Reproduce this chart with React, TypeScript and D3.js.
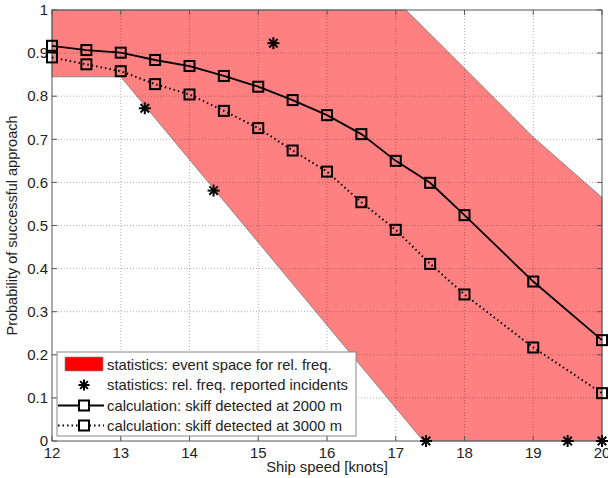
import React from "react";
import * as d3 from "d3";

const xTicks = [12, 13, 14, 15, 16, 17, 18, 19, 20];
const yTicks = [0, 0.1, 0.2, 0.3, 0.4, 0.5, 0.6, 0.7, 0.8, 0.9, 1];
const yTickLabels = ["0", "0.1", "0.2", "0.3", "0.4", "0.5", "0.6", "0.7", "0.8", "0.9", "1"];

const regionX = [12, 17.15, 18, 19, 20, 20, 17.4, 13, 12];
const regionY = [1, 1, 0.865, 0.705, 0.565, 0, 0, 0.845, 0.845];

const incidentX = [15.22, 13.35, 14.35, 17.44, 19.5, 20];
const incidentY = [0.923, 0.772, 0.581, 0, 0, 0];

const speeds = [12, 12.5, 13, 13.5, 14, 14.5, 15, 15.5, 16, 16.5, 17, 17.5, 18, 19, 20];
const p2000 = [0.917, 0.907, 0.901, 0.884, 0.870, 0.847, 0.822, 0.791, 0.756, 0.712, 0.650, 0.599, 0.524, 0.370, 0.234];
const p3000 = [0.890, 0.874, 0.858, 0.828, 0.804, 0.766, 0.726, 0.674, 0.625, 0.554, 0.490, 0.411, 0.340, 0.217, 0.111];

const legendLabels = [
  "statistics: event space for rel. freq.",
  "statistics: rel. freq. reported incidents",
  "calculation: skiff detected at 2000 m",
  "calculation: skiff detected at 3000 m",
];

const W = 608, H = 478;
const L = 52, R = 602, T = 10, B = 441;
const FONT = "Liberation Sans, Arial, sans-serif";

function Star({ x, y, r }: { x: number; y: number; r: number }) {
  const angles = [0, 45, 90, 135];
  return (
    <g>
      {angles.map((a) => {
        const rad = (a * Math.PI) / 180;
        return (
          <line key={a} x1={x - r * Math.cos(rad)} y1={y - r * Math.sin(rad)} x2={x + r * Math.cos(rad)} y2={y + r * Math.sin(rad)} stroke="#000" strokeWidth={2} />
        );
      })}
    </g>
  );
}

export default function App() {
  const x = d3.scaleLinear().domain([12, 20]).range([L, R]);
  const y = d3.scaleLinear().domain([0, 1]).range([B, T]);

  const region = regionX.map((v, i) => [x(v), y(regionY[i])] as [number, number]);
  const regionPath = d3.line()(region) + "Z";

  const line = d3.line<number>().x((_, i) => x(speeds[i])).y((d) => y(d));
  const path2000 = line(p2000) || "";
  const path3000 = line(p3000) || "";

  const sq = 10;
  const gridColor = "rgba(0,0,0,0.3)";
  const axisColor = "#555";
  const tickLen = 5;

  const lgX = 57, lgY = 352, lgW = 299, lgH = 84;
  const rowY = [365, 385, 405.5, 425.5];

  return (
    <svg width={W} height={H} style={{ position: "absolute", left: 0, top: 0, background: "#fff" }}>
      <rect x={0} y={0} width={W} height={H} fill="#fff" />
      <path d={regionPath} fill="#ff8080" stroke="#777" strokeWidth={0.8} />
      {/* grid */}
      {xTicks.slice(1, -1).map((t) => (
        <line key={"gx" + t} x1={x(t)} x2={x(t)} y1={T} y2={B} stroke={gridColor} strokeDasharray="1,2" />
      ))}
      {yTicks.slice(1, -1).map((t) => (
        <line key={"gy" + t} x1={L} x2={R} y1={y(t)} y2={y(t)} stroke={gridColor} strokeDasharray="1,2" />
      ))}
      {/* axes box */}
      <rect x={L} y={T} width={R - L} height={B - T} fill="none" stroke={axisColor} strokeWidth={1} />
      {xTicks.map((t) => (
        <g key={"tx" + t}>
          <line x1={x(t)} x2={x(t)} y1={B} y2={B - tickLen} stroke={axisColor} />
          <line x1={x(t)} x2={x(t)} y1={T} y2={T + tickLen} stroke={axisColor} />
          <text x={x(t)} y={B + 17} textAnchor="middle" fontFamily={FONT} fontSize={15} fill="#222">{t}</text>
        </g>
      ))}
      {yTicks.map((t, i) => (
        <g key={"ty" + t}>
          <line x1={L} x2={L + tickLen} y1={y(t)} y2={y(t)} stroke={axisColor} />
          <line x1={R} x2={R - tickLen} y1={y(t)} y2={y(t)} stroke={axisColor} />
          <text x={L - 4} y={y(t)} dy="0.35em" textAnchor="end" fontFamily={FONT} fontSize={15} fill="#222">{yTickLabels[i]}</text>
        </g>
      ))}
      {/* series */}
      <path d={path3000} fill="none" stroke="#000" strokeWidth={2} strokeDasharray="1.5,3" />
      <path d={path2000} fill="none" stroke="#000" strokeWidth={1.8} />
      {speeds.map((s, i) => (
        <rect key={"m3" + s} x={x(s) - sq / 2} y={y(p3000[i]) - sq / 2} width={sq} height={sq} fill="none" stroke="#000" strokeWidth={2} />
      ))}
      {speeds.map((s, i) => (
        <rect key={"m2" + s} x={x(s) - sq / 2} y={y(p2000[i]) - sq / 2} width={sq} height={sq} fill="none" stroke="#000" strokeWidth={2} />
      ))}
      {incidentX.map((v, i) => (
        <Star key={"st" + i} x={x(v)} y={y(incidentY[i])} r={6} />
      ))}
      {/* legend */}
      <rect x={lgX} y={lgY} width={lgW} height={lgH} fill="#fff" stroke="#888" strokeWidth={1} />
      <rect x={65} y={357} width={38} height={14} fill="#ff0000" stroke="#888" strokeWidth={0.6} />
      <Star x={84} y={rowY[1]} r={5.5} />
      <line x1={58} x2={104} y1={rowY[2]} y2={rowY[2]} stroke="#000" strokeWidth={1.8} />
      <rect x={84 - 5} y={rowY[2] - 5} width={10} height={10} fill="#fff" stroke="#000" strokeWidth={2} />
      <line x1={58} x2={104} y1={rowY[3]} y2={rowY[3]} stroke="#000" strokeWidth={2} strokeDasharray="1.5,3" />
      <rect x={84 - 5} y={rowY[3] - 5} width={10} height={10} fill="#fff" stroke="#000" strokeWidth={2} />
      {legendLabels.map((t, i) => (
        <text key={t} x={107} y={rowY[i]} dy="0.35em" fontFamily={FONT} fontSize={14.8} fill="#222">{t}</text>
      ))}
      {/* labels */}
      <text x={(L + R) / 2} y={472} textAnchor="middle" fontFamily={FONT} fontSize={14.8} fill="#222">Ship speed [knots]</text>
      <text transform={`translate(17, ${(T + B) / 2}) rotate(-90)`} textAnchor="middle" fontFamily={FONT} fontSize={14.5} fill="#222">Probability of successful approach</text>
    </svg>
  );
}
